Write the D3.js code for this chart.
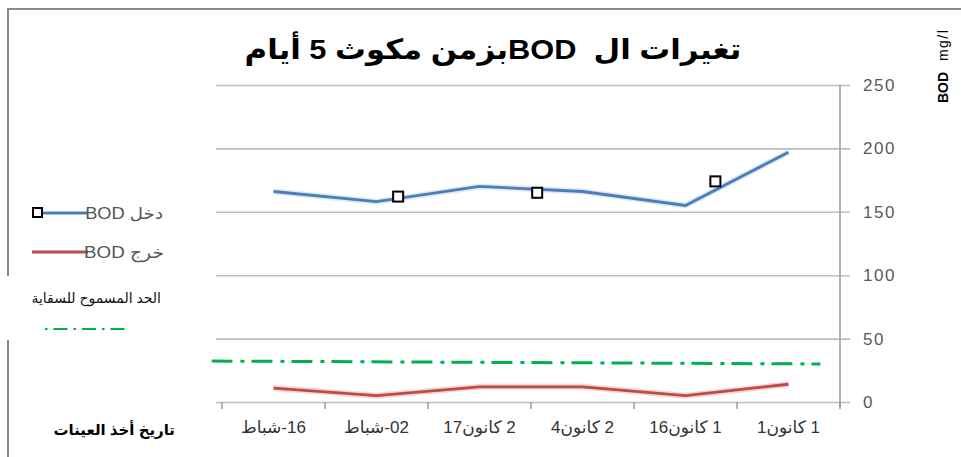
<!DOCTYPE html>
<html lang="ar">
<head>
  <meta charset="utf-8">
  <title>BOD</title>
  <script src="https://d3js.org/d3.v7.min.js"></script>
  <style>
    body { margin: 0; background: #fff; }
    svg text { font-family: "Liberation Sans", "DejaVu Sans", sans-serif; white-space: pre; }
  </style>
</head>
<body>
<script>
  // data, in date order (oldest first); the x axis runs right to left
  var days = ["1", "16", "4", "17", "02", "16"];
  var months = ["كانون", "كانون", "كانون", "كانون", "شباط", "شباط"];
  var monthNo = ["1", "1", "2", "2", "", ""];
  var bodIn = [197, 155, 166, 170, 158, 166];
  var bodOut = [14, 5, 12, 12, 5, 11];
  var yTicks = [0, 50, 100, 150, 200, 250];

  // hollow square markers pasted on the chart (position in date steps)
  var squarePos = [0.71, 2.44, 3.79];
  var squareVal = [174, 165, 162];

  // allowed limit for irrigation, drawn a bit tilted
  var limitPos = [-0.31, 5.6];
  var limitVal = [30, 32.3];

  var titleText = "تغيرات ال  BODبزمن مكوث 5 أيام";
  var legendIn = "BOD دخل";
  var legendOut = "BOD خرج";
  var limitLabel = "الحد المسموح للسقاية";
  var xTitle = "تاريخ أخذ العينات";

  // labels as seen left to right, LRM keeps the pieces in place
  var LRM = "\u200E";
  var dates = days.map(function(d, i) {
    if (monthNo[i]) return d + LRM + months[i] + LRM + " " + monthNo[i];
    return months[i] + LRM + "-" + d;
  });

  var w = 961, h = 457;

  var svg = d3.select("body").append("svg")
    .attr("width", w)
    .attr("height", h);

  var x = d3.scaleBand()
    .domain(dates.slice().reverse())
    .range([222, 840]);
  var bw = x.bandwidth();
  var xPos = d3.scaleLinear()
    .domain([0, dates.length - 1])
    .range([x(dates[0]) + bw / 2, x(dates[dates.length - 1]) + bw / 2]);
  var y = d3.scaleLinear().domain([0, 250]).range([402, 85]);

  // stretch a text horizontally to a given width
  function fitWidth(sel, width) {
    sel.each(function() {
      var bb = this.getBBox();
      var k = width / bb.width;
      var cx = bb.x + bb.width / 2;
      d3.select(this).attr("transform",
        "translate(" + cx + ",0) scale(" + k + ",1) translate(" + (-cx) + ",0)");
    });
  }

  // outer frame
  svg.append("path")
    .attr("d", "M8,470V9H975")
    .attr("fill", "none")
    .attr("stroke", "#8a8a8a")
    .attr("stroke-width", 2);

  // gridlines
  var grid = svg.append("g")
    .attr("transform", "translate(850,0)")
    .call(d3.axisLeft(y).tickValues(yTicks).tickSize(850 - 216).tickFormat(""));
  grid.select(".domain").remove();
  grid.selectAll("line").attr("stroke", "#bdbdbd").attr("stroke-width", 1.6);

  // y axis line and labels
  svg.append("line")
    .attr("x1", 840).attr("x2", 840)
    .attr("y1", y(250)).attr("y2", y(0) + 6)
    .attr("stroke", "#a0a0a0").attr("stroke-width", 1.6);

  var yAxis = svg.append("g")
    .attr("transform", "translate(840,0)")
    .call(d3.axisRight(y).tickValues(yTicks).tickSize(0).tickPadding(23));
  yAxis.select(".domain").remove();
  yAxis.selectAll("text")
    .attr("fill", "#595959")
    .style("font-size", "17px")
    .style("letter-spacing", "1.5px");

  // x axis ticks between categories
  var edges = x.domain().map(function(d) { return x(d); }).concat([x.range()[1]]);
  svg.append("g").selectAll("line")
    .data(edges)
    .enter().append("line")
    .attr("x1", function(d) { return d; })
    .attr("x2", function(d) { return d; })
    .attr("y1", y(0))
    .attr("y2", y(0) + 7)
    .attr("stroke", "#a0a0a0")
    .attr("stroke-width", 1.6);

  var xAxis = svg.append("g")
    .attr("transform", "translate(0," + y(0) + ")")
    .call(d3.axisBottom(x).tickSize(0).tickPadding(19));
  xAxis.select(".domain").remove();
  xAxis.selectAll("text")
    .attr("fill", "#333")
    .style("font-size", "17px");

  // lines
  var line = d3.line()
    .x(function(d, i) { return xPos(i); })
    .y(function(d) { return y(d); });

  svg.append("path").datum(bodIn)
    .attr("d", line).attr("fill", "none")
    .attr("stroke", "#c9d8ee").attr("stroke-width", 6).attr("opacity", 0.6);
  svg.append("path").datum(bodIn)
    .attr("d", line).attr("fill", "none")
    .attr("stroke", "#4a7ebb").attr("stroke-width", 2.8);

  svg.append("path").datum(bodOut)
    .attr("d", line).attr("fill", "none")
    .attr("stroke", "#f2c4c3").attr("stroke-width", 6).attr("opacity", 0.7);
  svg.append("path").datum(bodOut)
    .attr("d", line).attr("fill", "none")
    .attr("stroke", "#be4b48").attr("stroke-width", 2.8);

  // limit line
  var limitLine = d3.line()
    .x(function(d) { return xPos(d[0]); })
    .y(function(d) { return y(d[1]); });
  svg.append("path")
    .datum(d3.zip(limitPos, limitVal))
    .attr("d", limitLine)
    .attr("fill", "none")
    .attr("stroke", "#00b050")
    .attr("stroke-width", 3)
    .attr("stroke-dasharray", "21,7,4,8")
    .attr("stroke-dashoffset", 12);

  // square markers
  svg.append("g").selectAll("rect")
    .data(d3.zip(squarePos, squareVal))
    .enter().append("rect")
    .attr("x", function(d) { return xPos(d[0]) - 5; })
    .attr("y", function(d) { return y(d[1]) - 5; })
    .attr("width", 10)
    .attr("height", 10)
    .attr("fill", "#fff")
    .attr("stroke", "#000")
    .attr("stroke-width", 2);

  // legend
  var leg = svg.append("g");
  leg.append("line")
    .attr("x1", 40).attr("x2", 88).attr("y1", 213).attr("y2", 213)
    .attr("stroke", "#4a7ebb").attr("stroke-width", 3);
  leg.append("rect")
    .attr("x", 33).attr("y", 208).attr("width", 9).attr("height", 9)
    .attr("fill", "#fff").attr("stroke", "#000").attr("stroke-width", 2);
  leg.append("text")
    .attr("x", 90).attr("y", 219)
    .attr("fill", "#555")
    .style("font-size", "16px")
    .text(legendIn)
    .call(fitWidth, 78);

  leg.append("line")
    .attr("x1", 32).attr("x2", 88).attr("y1", 252).attr("y2", 252)
    .attr("stroke", "#be4b48").attr("stroke-width", 3);
  leg.append("text")
    .attr("x", 90).attr("y", 258)
    .attr("fill", "#555")
    .style("font-size", "16px")
    .text(legendOut)
    .call(fitWidth, 80);

  // pasted box for the limit label (hides the frame)
  svg.append("rect")
    .attr("x", 0).attr("y", 276).attr("width", 212).attr("height", 64)
    .attr("fill", "#fff");
  svg.append("text")
    .attr("x", 161).attr("y", 303)
    .attr("text-anchor", "end")
    .attr("fill", "#111")
    .style("font-size", "14px")
    .text(limitLabel);
  svg.append("line")
    .attr("x1", 45).attr("x2", 130).attr("y1", 329).attr("y2", 329)
    .attr("stroke", "#00b050")
    .attr("stroke-width", 2)
    .attr("stroke-dasharray", "2.5,6,14,6");

  // x title
  svg.append("text")
    .attr("x", 175).attr("y", 435)
    .attr("text-anchor", "end")
    .attr("fill", "#000")
    .style("font-size", "15px")
    .style("font-weight", "bold")
    .text(xTitle);

  // chart title
  var title = svg.append("text")
    .attr("x", 493).attr("y", 59)
    .attr("text-anchor", "middle")
    .attr("direction", "rtl")
    .attr("fill", "#000")
    .style("font-size", "28px")
    .style("font-weight", "bold")
    .text(titleText);
  fitWidth(title, 497);

  // y title, rotated
  var yt = svg.append("text")
    .attr("transform", "translate(948,103) rotate(-90)")
    .attr("fill", "#000");
  yt.append("tspan").style("font-size", "14px").style("font-weight", "bold").text("BOD");
  yt.append("tspan").style("font-size", "14px").style("letter-spacing", "1.5px").text("  mg/l");
</script>
</body>
</html>
